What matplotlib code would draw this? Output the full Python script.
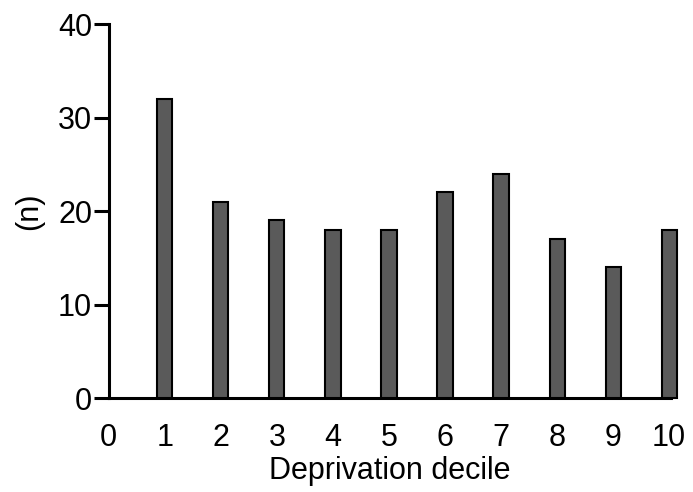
import numpy as np
import matplotlib.pyplot as plt

plt.rcParams['font.family'] = ['Liberation Sans', 'DejaVu Sans']

deciles = np.arange(1, 11)
counts = [32, 21, 19, 18, 18, 22, 24, 17, 14, 18]

fig = plt.figure(figsize=(6.93, 4.92), dpi=100)
ax = fig.add_axes([0.157, 0.191, 0.811, 0.76])

ax.bar(deciles, counts, width=0.27, color='#5a5a5a', edgecolor='black',
       linewidth=1.5, clip_on=False, zorder=3)

ax.set_xlim(0, 10.03)
ax.set_ylim(0, 40)
ax.set_xticks(np.arange(0, 11))
ax.set_yticks([0, 10, 20, 30, 40])
ax.spines['top'].set_visible(False)
ax.spines['right'].set_visible(False)
for s in ['left', 'bottom']:
    ax.spines[s].set_linewidth(2.2)
ax.tick_params(axis='y', length=11, width=2.2, labelsize=22, pad=1)
ax.tick_params(axis='x', length=0, labelsize=22, pad=18)
ax.set_xlabel('Deprivation decile', fontsize=22, labelpad=2)
ax.set_ylabel('(n)', fontsize=22, labelpad=10)

fig.savefig('out.png', dpi=100)
